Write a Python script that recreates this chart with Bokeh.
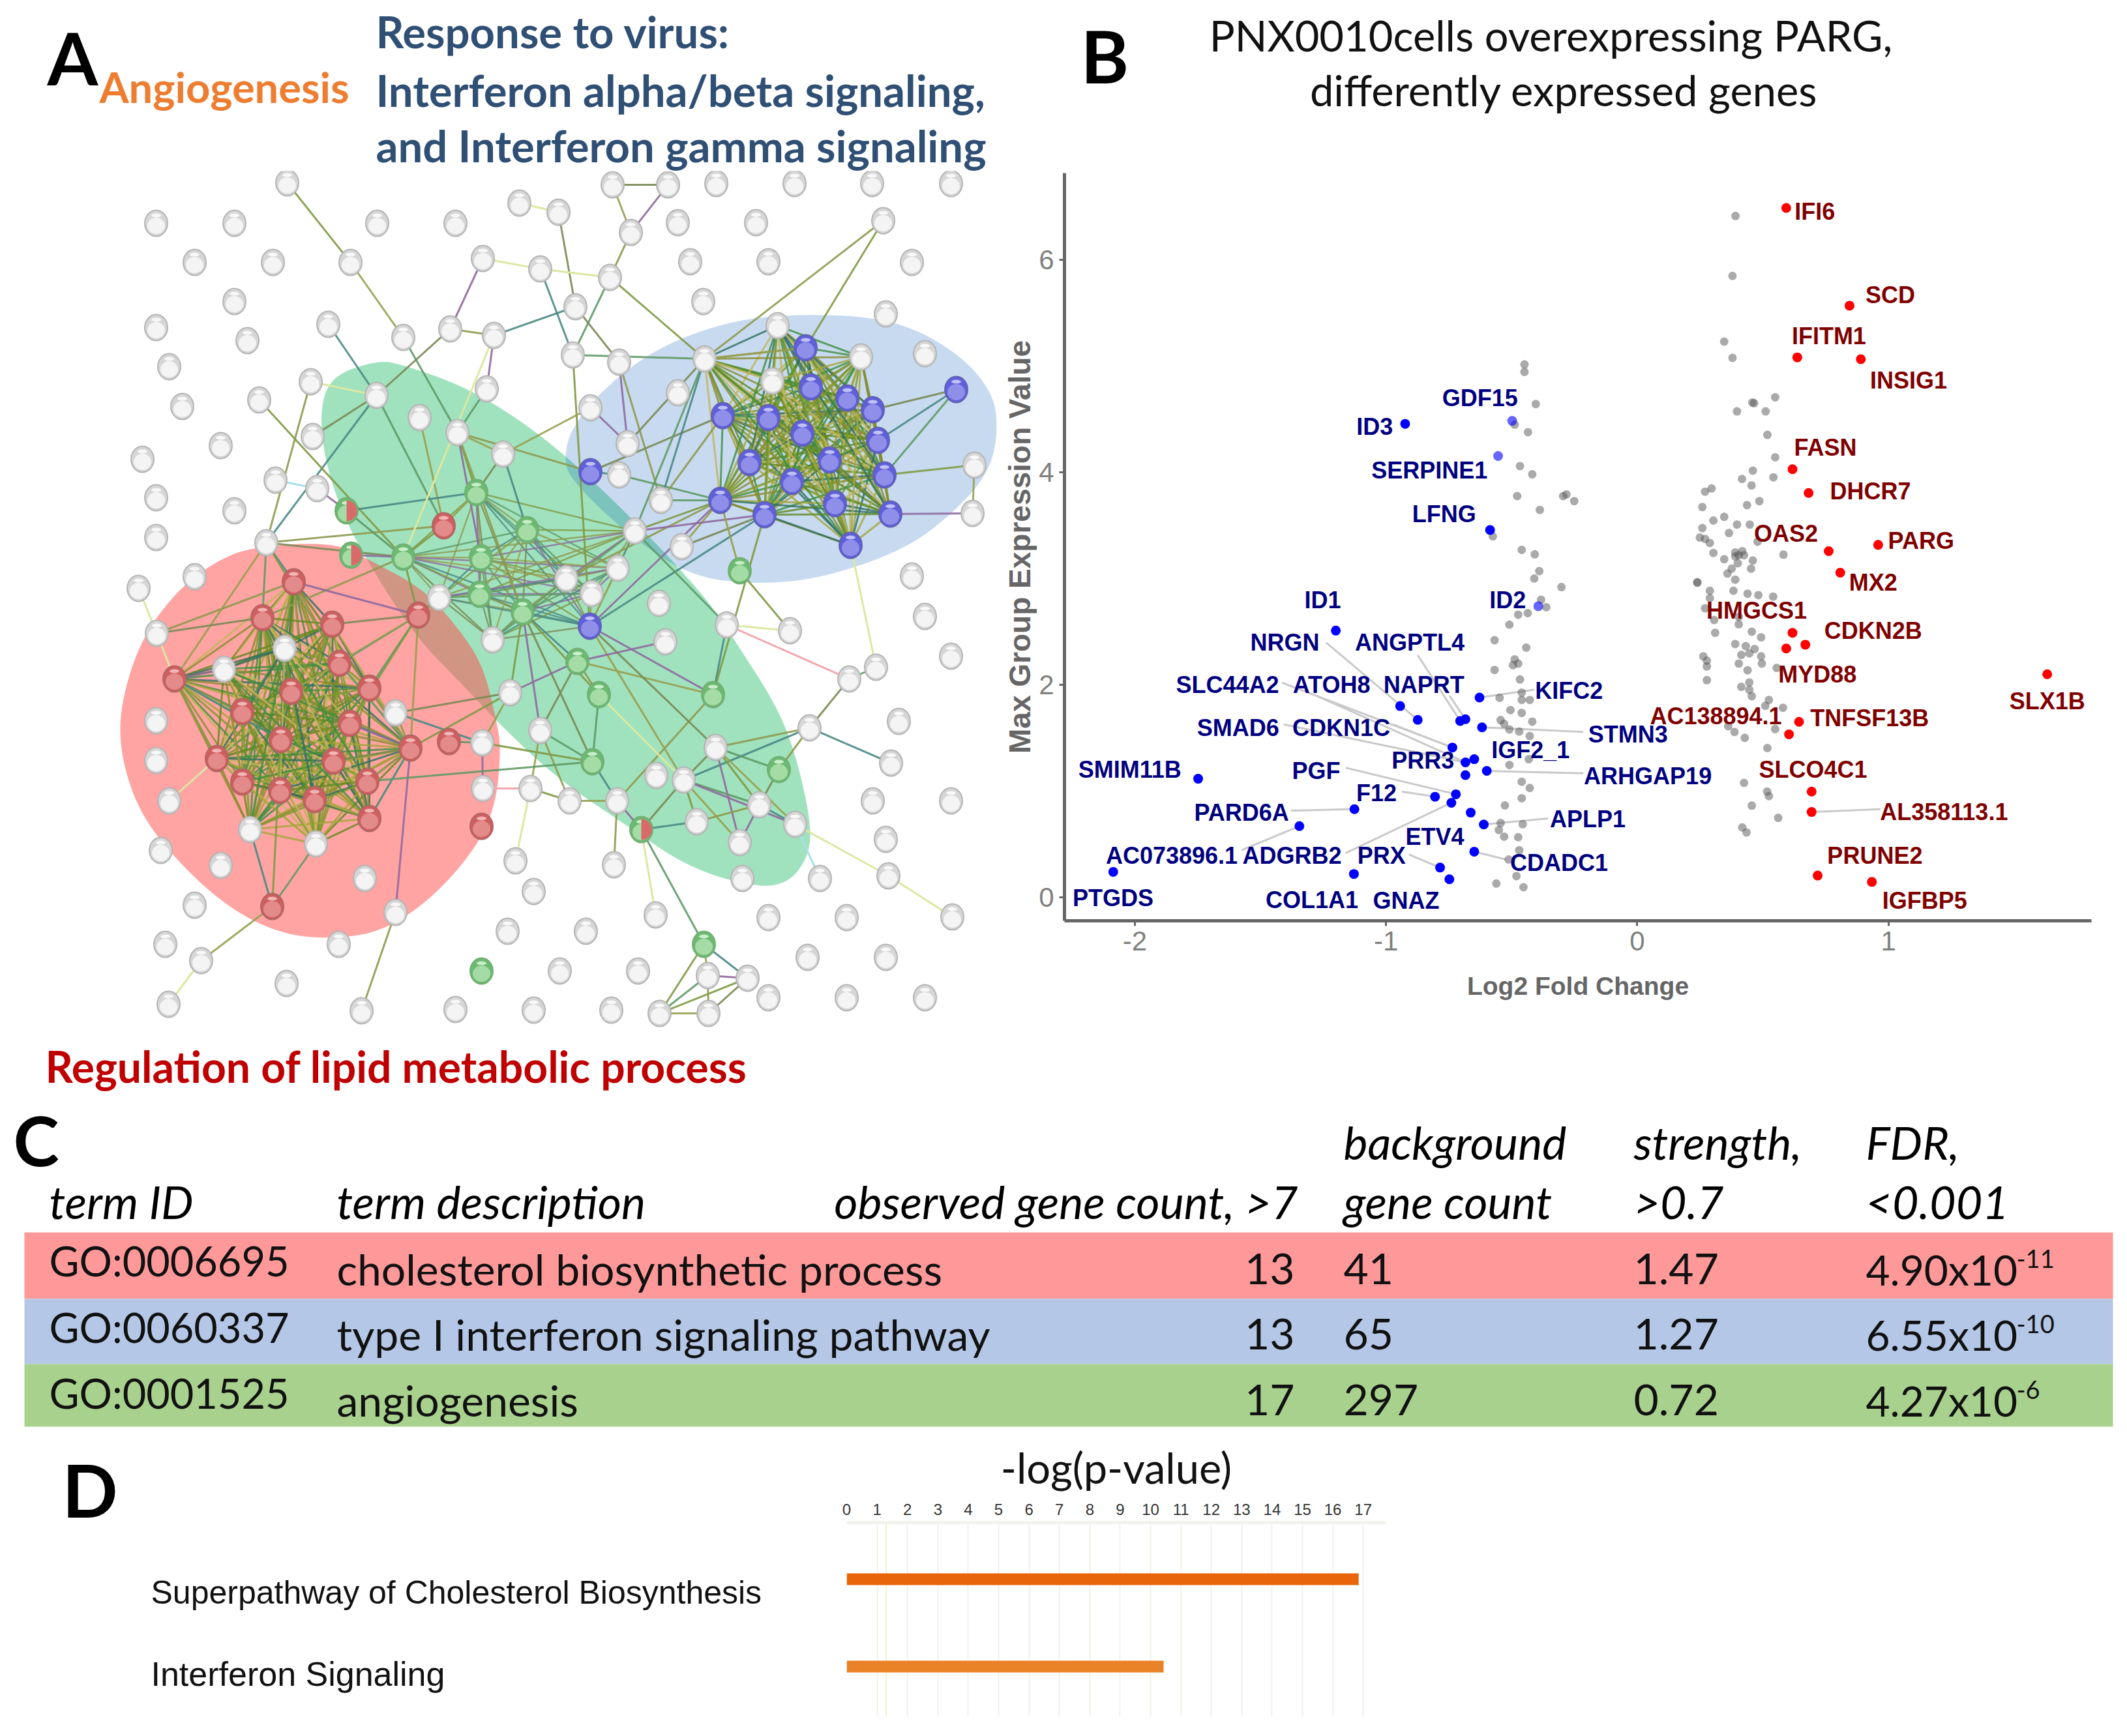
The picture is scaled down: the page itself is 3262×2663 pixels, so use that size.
from itertools import combinations
from bokeh.plotting import figure
from bokeh.layouts import column, row, Spacer
from bokeh.models import Range1d, FixedTicker
from bokeh.core.properties import value
from bokeh.embed import file_html
from bokeh.resources import INLINE

# ---------- panel A : network nodes (position on the layout) ----------
GRAY_NODES = [(440,280),(239,342),(359,342),(578,342),(698,342),(796,311),(298,402),(418,402),(537,402),(740,396),
 (359,462),(239,502),(379,522),(503,497),(618,517),(690,504),(757,514),(259,562),(476,585),(279,623),(397,613),
 (577,606),(746,596),(643,640),(479,669),(701,663),(338,683),(771,696),(218,704),(422,736),(486,749),(239,763),
 (359,783),(239,824),(408,832),(298,884),(212,902),
 (939,283),(1024,283),(1098,281),(1218,281),(1337,281),(1458,281),(856,325),(967,356),(1039,341),(1159,341),
 (1354,338),(828,412),(935,425),(1058,401),(1178,401),(1398,402),(882,470),(1078,462),(1358,481),(1192,499),
 (878,544),(949,555),(1080,550),(1320,547),(1418,542),(1184,584),(905,625),(1039,602),(962,680),(949,728),
 (1494,713),(1491,787),(1013,767),(973,814),(1045,838),(947,871),(868,887),(1398,883),
 (240,971),(343,1026),(436,994),(673,916),(755,981),(606,1093),(782,1062),(239,1105),(239,1166),(259,1228),
 (739,1139),(740,1209),(383,1272),(484,1294),(246,1304),(338,1327),(559,1347),(298,1388),(606,1399),(790,1320),
 (778,1428),(253,1448),(519,1448),(308,1473),(439,1508),(698,1548),(258,1540),(554,1550),
 (907,910),(1010,925),(1020,984),(1114,958),(1211,967),(1418,945),(1458,1006),(1343,1023),(1302,1041),(1378,1106),
 (1241,1116),(828,1120),(1097,1146),(1366,1170),(1006,1189),(1048,1196),(813,1209),(873,1228),(946,1228),(1338,1228),
 (1458,1228),(1164,1234),(1068,1260),(1219,1264),(1134,1292),(1358,1287),(941,1326),(818,1367),(1138,1347),(1257,1347),
 (1362,1343),(898,1428),(1005,1403),(1178,1407),(1298,1407),(1460,1406),(1238,1468),(1358,1468),(858,1489),(978,1489),
 (1085,1496),(1146,1500),(1178,1530),(1298,1530),(1418,1530),(818,1549),(937,1549),(1011,1554),(1086,1554)]
RED_NODES = [(680,806),(450,892),(402,947),(509,957),(641,943),(520,1017),(267,1041),(566,1055),(446,1060),(371,1091),
 (536,1109),(430,1134),(688,1137),(629,1147),(332,1163),(511,1167),(371,1199),(563,1198),(429,1212),(482,1226),
 (566,1255),(738,1267),(417,1390)]
BLUE_NODES = [(1235,533),(1243,593),(1299,610),(1338,628),(1466,597),(1108,637),(1178,640),(1230,664),(1346,675),
 (1149,709),(1272,705),(1356,728),(905,723),(1214,738),(1104,767),(1280,772),(1172,789),(1365,788),(1304,836),(904,960)]
GREEN_NODES = [(618,854),(730,755),(737,855),(808,812),(1134,875),(735,911),(801,938),(885,1014),(918,1065),(1093,1065),
 (908,1168),(1194,1180),(1079,1448),(738,1489)]
SPLIT_NODES = [(531,783),(538,851),(983,1272)]

RED_CLUSTER = [(450,892),(402,947),(509,957),(520,1017),(267,1041),(566,1055),(446,1060),(371,1091),(536,1109),
 (430,1134),(629,1147),(332,1163),(511,1167),(371,1199),(563,1198),(429,1212),(482,1226),(566,1255),(343,1026),
 (436,994),(383,1272),(484,1294)]
BLUE_CLUSTER = [(1235,533),(1243,593),(1299,610),(1338,628),(1108,637),(1178,640),(1230,664),(1346,675),(1149,709),
 (1272,705),(1356,728),(1214,738),(1104,767),(1280,772),(1172,789),(1365,788),(1304,836),(1080,550),(1192,499),(1320,547),(1184,584)]
GREEN_CLUSTER = [(730,755),(618,854),(737,855),(735,911),(808,812),(801,938),(868,887),(907,910),(673,916),(755,981),
 (904,960),(947,871),(973,814)]

EDGES = [((440,280),(537,402)),((537,402),(618,517)),((740,396),(690,504)),((690,504),(757,514)),((690,504),(577,606)),
 ((503,497),(577,606)),((618,517),(701,663)),((476,585),(408,832)),((577,606),(479,669)),((577,606),(408,832)),
 ((577,606),(680,806)),((397,613),(618,854)),((643,640),(680,806)),((757,514),(746,596)),((746,596),(701,663)),
 ((701,663),(730,755)),((701,663),(771,696)),((701,663),(737,855)),((701,663),(801,938)),((771,696),(730,755)),
 ((771,696),(808,812)),((486,749),(531,783)),((408,832),(680,806)),((408,832),(618,854)),((408,832),(450,892)),
 ((408,832),(402,947)),((408,832),(520,1017)),((408,832),(267,1041)),((531,783),(730,755)),((531,783),(618,854)),
 ((680,806),(618,854)),((680,806),(730,755)),((538,851),(618,854)),((618,854),(402,947)),
 ((939,283),(1024,283)),((939,283),(967,356)),((1024,283),(967,356)),((967,356),(935,425)),((856,325),(882,470)),
 ((828,412),(878,544)),((935,425),(878,544)),((935,425),(1080,550)),((882,470),(949,555)),((882,470),(757,514)),
 ((878,544),(1080,550)),((878,544),(904,960)),((905,625),(771,696)),((905,625),(962,680)),((1354,338),(1080,550)),
 ((1354,338),(1235,533)),((1080,550),(1235,533)),((949,555),(962,680)),((949,555),(1013,767)),((905,723),(1108,637)),
 ((905,723),(949,728)),((949,728),(1104,767)),((701,663),(905,723)),((1466,597),(1338,628)),((1466,597),(1346,675)),
 ((1466,597),(1356,728)),((1356,728),(1494,713)),((1494,713),(1491,787)),((1365,788),(1491,787)),
 ((1104,767),(1013,767)),((1104,767),(973,814)),((1104,767),(1045,838)),((1104,767),(904,960)),((1104,767),(868,887)),
 ((1172,789),(1045,838)),((1172,789),(904,960)),((1172,789),(973,814)),((1108,637),(1013,767)),((1080,550),(962,680)),
 ((1080,550),(1013,767)),((1080,550),(973,814)),((1134,875),(1211,967)),((1134,875),(1104,767)),((1114,958),(1093,1065)),
 ((1114,958),(973,814)),((1172,789),(1093,1065)),((1093,1065),(885,1014)),((1093,1065),(904,960)),((1093,1065),(946,1228)),
 ((904,960),(1097,1146)),((904,960),(1048,1196)),((1020,984),(885,1014)),((885,1014),(918,1065)),((885,1014),(828,1120)),
 ((885,1014),(801,938)),((918,1065),(908,1168)),((918,1065),(801,938)),((908,1168),(801,938)),((908,1168),(946,1228)),
 ((908,1168),(828,1120)),((908,1168),(739,1139)),((828,1120),(813,1209)),((828,1120),(801,938)),((828,1120),(873,1228)),
 ((813,1209),(873,1228)),((873,1228),(946,1228)),((946,1228),(983,1272)),((946,1228),(941,1326)),((983,1272),(1048,1196)),
 ((983,1272),(1068,1260)),((983,1272),(1079,1448)),((1097,1146),(1241,1116)),((1048,1196),(1097,1146)),((1048,1196),(1241,1116)),
 ((1048,1196),(1164,1234)),((1048,1196),(1068,1260)),((1048,1196),(1134,1292)),((1048,1196),(1219,1264)),((1097,1146),(1194,1180)),
 ((1097,1146),(1164,1234)),((1097,1146),(1219,1264)),((1097,1146),(1134,1292)),((1194,1180),(1241,1116)),((1194,1180),(1164,1234)),
 ((1164,1234),(1219,1264)),((1164,1234),(1134,1292)),((1164,1234),(1068,1260)),((1241,1116),(1302,1041)),((1241,1116),(1366,1170)),
 ((1302,1041),(1343,1023)),((1079,1448),(1011,1554)),((1079,1448),(1085,1496)),((1079,1448),(1146,1500)),((1011,1554),(1085,1496)),
 ((1011,1554),(1146,1500)),((1011,1554),(1086,1554)),((1085,1496),(1146,1500)),((1085,1496),(1086,1554)),((1146,1500),(1086,1554)),
 ((417,1390),(308,1473)),((606,1399),(629,1147)),((606,1399),(554,1550)),((240,971),(402,947)),((417,1390),(383,1272)),
 ((417,1390),(484,1294)),((417,1390),(430,1134)),((641,943),(509,957)),((641,943),(520,1017)),((641,943),(566,1055)),
 ((641,943),(536,1109)),((641,943),(446,1060)),((641,943),(450,892)),((641,943),(673,916)),((641,943),(618,854)),
 ((629,1147),(566,1055)),((629,1147),(536,1109)),((629,1147),(563,1198)),((629,1147),(511,1167)),((629,1147),(566,1255)),
 ((629,1147),(520,1017)),((629,1147),(606,1093)),((606,1093),(782,1062)),((606,1093),(739,1139)),((688,1137),(739,1139)),
 ((629,1147),(782,1062)),((641,943),(629,1147)),((740,1209),(739,1139)),((563,1198),(908,1168)),((782,1062),(801,938)),
 ((782,1062),(739,1139)),((782,1062),(885,1014)),((267,1041),(332,1163)),((267,1041),(371,1091)),((267,1041),(430,1134)),
 ((267,1041),(343,1026)),((240,971),(450,892))]
LIGHT_EDGES = [((577,606),(476,585)),((757,514),(618,854)),((828,412),(935,425)),((1304,836),(1343,1023)),
 ((1114,958),(1211,967)),((813,1209),(790,1320)),((918,1065),(1048,1196)),((983,1272),(1005,1403)),((1219,1264),(1362,1343)),
 ((1362,1343),(1460,1406)),((308,1473),(258,1540)),((240,971),(212,902)),((240,971),(267,1041)),((259,1228),(332,1163)),
 ((856,325),(796,311)),((740,396),(828,412))]
PINK_EDGES = [((1114,958),(1302,1041)),((740,1209),(813,1209))]
CYAN_EDGES = [((422,736),(486,749)),((1219,1264),(1257,1347))]

RED_HULL = [(383,838),(510,831),(561,856),(648,902),(700,960),(740,1019),(760,1101),(768,1147),(760,1234),(730,1300),(663,1377),
 (587,1428),(510,1440),(434,1433),(357,1397),(281,1331),(214,1249),(184,1157),(184,1081),(214,984),(265,912),(321,866)]
BLUE_HULL = [(1208,481),(1361,486),(1463,535),(1524,602),(1530,669),(1514,727),(1463,785),(1387,843),(1259,887),(1157,896),
 (1055,883),(953,812),(876,736),(864,704),(876,655),(928,593),(1004,535),(1106,495)]
GREEN_HULL = [(577,553),(510,575),(490,624),(497,704),(525,789),(566,866),(638,978),(714,1055),(766,1111),(853,1193),(965,1269),
 (1057,1331),(1159,1361),(1210,1354),(1241,1310),(1243,1259),(1220,1157),(1190,1081),(1134,994),(1098,938),(1047,877),
 (963,789),(869,700),(800,646),(714,593),(612,557)]

# ---------- panel B : volcano ----------
GRAY_X = [-0.449,-0.449,-0.404,-0.488,-0.435,-0.467,-0.418,-0.478,-0.295,-0.388,-0.575,-0.46,-0.408,-0.39,-0.41,-0.302,-0.383,-0.362,
 -0.436,-0.474,-0.509,-0.568,-0.442,-0.488,-0.474,-0.495,-0.568,-0.467,-0.548,-0.46,-0.46,-0.428,-0.505,-0.46,-0.544,-0.53,-0.418,
 -0.509,-0.47,-0.428,-0.432,-0.509,-0.46,-0.428,-0.46,-0.527,-0.544,-0.456,-0.551,-0.53,-0.474,-0.47,-0.512,-0.481,-0.561,-0.453,
 0.391,0.379,0.346,0.379,0.458,0.465,0.549,0.397,0.511,0.518,0.549,0.46,0.542,0.417,0.455,0.27,0.296,-0.251,-0.282,0.486,0.437,0.259,
 0.346,0.303,0.397,0.448,0.259,0.365,0.249,0.27,0.289,0.479,0.303,0.582,0.39,0.404,0.418,0.425,0.39,0.346,0.46,0.453,0.4,0.376,0.359,
 0.39,0.239,0.239,0.289,0.383,0.439,0.482,0.541,0.289,0.27,0.306,0.404,0.404,0.31,0.456,0.493,0.39,0.432,0.467,0.446,0.414,0.493,0.404,
 0.263,0.277,0.277,0.496,0.555,0.439,0.277,0.446,0.414,0.446,0.456,0.524,0.51,0.58,0.362,0.387,0.549,0.428,0.518,0.425,0.517,0.524,0.456,0.561,0.418,0.435]
GRAY_Y = [5.015,4.945,4.642,4.449,4.378,4.059,3.981,3.776,3.776,3.646,3.398,3.27,3.228,3.07,3.0,2.92,2.8,2.73,
 2.675,2.66,2.566,2.42,2.35,2.24,2.2,2.185,2.14,2.05,1.878,1.927,1.858,1.858,1.763,1.736,1.668,1.633,1.654,
 1.58,1.56,1.518,1.3,1.246,1.088,1.029,0.933,0.865,0.7,0.688,0.634,0.571,0.566,0.444,0.356,0.2,0.13,0.095,
 6.412,5.848,5.23,5.077,4.657,4.65,4.706,4.573,4.573,4.352,4.141,4.016,3.953,3.937,3.876,3.818,3.848,3.729,3.792,3.729,3.691,3.673,
 3.581,3.546,3.508,3.508,3.475,3.429,3.386,3.373,3.335,3.347,3.241,3.225,3.246,3.22,3.258,3.22,3.208,3.182,3.17,3.093,3.144,3.093,3.047,
 2.99,2.966,2.96,2.885,2.885,2.858,2.844,2.83,2.816,2.72,2.61,2.57,2.64,2.49,2.5,2.447,2.384,2.364,2.337,2.296,2.282,2.268,2.2,
 2.268,2.227,2.173,2.2,2.159,2.137,2.044,2.022,1.981,1.953,1.893,1.858,1.803,1.784,1.611,1.556,1.584,1.501,1.405,1.077,0.995,0.953,0.863,0.748,0.658,0.611]
DOWN_X = [-2.086,-1.748,-1.345,-1.126,-1.2,-1.128,-0.944,-0.874,-0.805,-0.785,-0.748,-0.736,-0.74,-0.722,-0.705,-0.684,-0.684,-0.684,
 -0.649,-0.663,-0.649,-0.628,-0.618,-0.611,-0.599,-0.394,-0.924,-0.498,-0.554,-0.586]
DOWN_Y = [0.24,1.116,0.67,0.83,2.51,0.22,1.8,1.67,0.947,0.28,0.17,1.41,0.89,0.97,1.66,1.676,1.27,1.15,
 1.3,0.797,0.43,1.88,1.6,0.686,1.19,2.74,4.456,4.484,4.153,3.457]
DOWN_FADED = [False]*25 + [True, False, True, True, False]
UP_X = [0.593,0.845,0.637,0.89,0.618,0.682,0.762,0.959,0.808,0.618,0.669,0.593,1.632,0.644,0.604,0.694,0.694,0.718,0.934]
UP_Y = [6.488,5.568,5.082,5.064,4.029,3.805,3.258,3.317,3.055,2.49,2.378,2.342,2.1,1.652,1.534,0.995,0.803,0.205,0.145]

DOWN_LABELS = ["ID1","NRGN","ANGPTL4","SLC44A2","ATOH8","NAPRT","SMAD6","CDKN1C","PRR3","SMIM11B","PGF","F12","PARD6A","AC073896.1",
 "ADGRB2","PRX","ETV4","PTGDS","COL1A1","GNAZ","ID2","GDF15","ID3","SERPINE1","LFNG","KIFC2","STMN3","IGF2_1","ARHGAP19","APLP1","CDADC1"]
DOWN_LABEL_X = [-1.252,-1.403,-0.906,-1.631,-1.217,-0.849,-1.589,-1.178,-0.853,-2.02,-1.278,-1.038,-1.575,-1.853,
 -1.374,-1.018,-0.806,-2.087,-1.295,-0.92,-0.516,-0.626,-1.045,-0.827,-0.769,-0.272,-0.037,-0.425,0.042,-0.197,-0.311]
DOWN_LABEL_Y = [2.8,2.397,2.397,2.0,2.0,2.0,1.595,1.595,1.287,1.205,1.19,0.98,0.797,0.395,
 0.39,0.39,0.571,-0.005,-0.024,-0.033,2.8,4.7,4.43,4.02,3.61,1.945,1.534,1.386,1.14,0.736,0.325]
UP_LABELS = ["IFI6","SCD","IFITM1","INSIG1","FASN","DHCR7","OAS2","PARG","MX2","HMGCS1","CDKN2B","MYD88","SLX1B","AC138894.1",
 "TNFSF13B","SLCO4C1","AL358113.1","PRUNE2","IGFBP5"]
UP_LABEL_X = [0.707,1.007,0.763,1.08,0.749,0.928,0.592,1.13,0.939,0.475,0.939,0.717,1.632,0.313,0.925,0.7,1.221,0.946,1.144]
UP_LABEL_Y = [6.455,5.67,5.28,4.868,4.233,3.823,3.424,3.355,2.962,2.7,2.51,2.096,1.849,1.707,1.685,1.2,0.803,0.392,-0.033]
LINK_X0 = [-1.238,-0.874,-0.748,-1.414,-1.28,-1.407,-0.972,-1.161,-0.937,-1.379,-1.575,-1.161,-0.909,-0.628,-0.618,-0.599,-0.611,-0.649,0.694]
LINK_Y0 = [2.397,2.28,1.9,2.02,1.9,1.627,1.627,1.219,0.996,0.816,0.444,0.416,0.403,1.88,1.6,1.19,0.686,0.43,0.803]
LINK_X1 = [-0.874,-0.705,-0.684,-0.736,-0.684,-0.684,-0.736,-0.722,-0.805,-1.126,-1.345,-0.74,-0.785,-0.411,-0.215,-0.215,-0.355,-0.523,0.968]
LINK_Y1 = [1.67,1.66,1.676,1.41,1.27,1.27,1.41,0.97,0.947,0.83,0.67,0.89,0.28,1.954,1.556,1.167,0.743,0.356,0.83]
X_TICKS = [-2,-1,0,1]
Y_TICKS = [0,2,4,6]

# ---------- panel C : table ----------
TERM_ID = ["GO:0006695","GO:0060337","GO:0001525"]
TERM_DESC = ["cholesterol biosynthetic process","type I interferon signaling pathway","angiogenesis"]
OBSERVED = ["13","13","17"]
BACKGROUND = ["41","65","297"]
STRENGTH = ["1.47","1.27","0.72"]
FDR_BASE = ["4.90x10","6.55x10","4.27x10"]
FDR_EXP = ["-11","-10","-6"]
ROW_COLORS = ["#FF9999","#B4C7E7","#A9D18E"]
ROW_TOP = [1890,1992,2092]
ROW_BOTTOM = [1992,2092,2188]
ROW_ID_BASE = [1957,2059,2160]
ROW_BASE = [1971,2071,2172]
FDR_END = [3092,3092,3092]

# ---------- panel D : bars ----------
PATHWAYS = ["Superpathway of Cholesterol Biosynthesis","Interferon Signaling"]
NEG_LOG_P = [16.85,10.43]
BAR_COLORS = ["#E8650A","#E98226"]
THRESHOLD = 1.3
P_TICKS = list(range(18))

CAL = "Lato"
ARIAL = "Liberation Sans"
PR = 3256
STRIP_B, A_B, C_B, D_B = 262, 1678, 2200, 2660
A_R = 1535

def page_fig(x0,x1,y0,y1):
    p = figure(width=x1-x0,height=y1-y0,x_range=Range1d(x0,x1),y_range=Range1d(y1,y0),
               output_backend="svg",toolbar_location=None)
    p.axis.visible = False
    p.grid.visible = False
    p.outline_line_color = None
    p.min_border = 0
    p.min_border_left = p.min_border_right = p.min_border_top = p.min_border_bottom = 0
    return p

def txt(p, x, y, s, size, color="black", bold=False, italic=False, font=CAL, align="left", baseline="alphabetic"):
    style = "bold italic" if bold and italic else "bold" if bold else "italic" if italic else "normal"
    if baseline == "alphabetic":
        y = y - 0.38*size
    p.text([x],[y],text=[s],text_font=value(font),text_font_size=f"{size}px",text_color=color,
           text_font_style=style,text_align=align,text_baseline=baseline)

def smooth(pts, n=3):
    pts = list(pts)
    for _ in range(n):
        out = []
        for i,(a,b) in enumerate(pts):
            c,d = pts[(i+1)%len(pts)]
            out += [(0.75*a+0.25*c,0.75*b+0.25*d),(0.25*a+0.75*c,0.25*b+0.75*d)]
        pts = out
    return [q[0] for q in pts],[q[1] for q in pts]

# ---------- top strip with the panel letters and headings ----------
s = page_fig(0,PR,0,STRIP_B)
txt(s,72,130,"A",112,bold=True)
txt(s,152,157,"Angiogenesis",65,"#ED7D31",True)
txt(s,576,73,"Response to virus:",67,"#2F4F75",True)
txt(s,576,163,"Interferon alpha/beta signaling,",67,"#2F4F75",True)
txt(s,576,248,"and Interferon gamma signaling",67,"#2F4F75",True)
txt(s,1657,127,"B",112,bold=True)
txt(s,2378,78,"PNX0010cells overexpressing PARG,",65,"#111111",align="center")
txt(s,2398,162,"differently expressed genes",65,"#111111",align="center")

# ---------- figure A ----------
a = page_fig(0,A_R,STRIP_B,A_B)
gx,gy = smooth(GREEN_HULL); a.patch(gx,gy,fill_color=(65,197,125),fill_alpha=0.5,line_color=None)
rx,ry = smooth(RED_HULL); a.patch(rx,ry,fill_color=(255,71,71),fill_alpha=0.5,line_color=None)
bx,by = smooth(BLUE_HULL); a.patch(bx,by,fill_color=(0,86,186),fill_alpha=0.22,line_color=None)

ALL_NODES = GRAY_NODES+RED_NODES+BLUE_NODES+GREEN_NODES+SPLIT_NODES
def snap(q):
    return min(ALL_NODES,key=lambda n:(n[0]-q[0])**2+(n[1]-q[1])**2)
def draw_edges(pairs, colors, width, alpha):
    xs,ys,cs = [],[],[]
    for i,(u,v) in enumerate(pairs):
        u2,v2 = snap(u),snap(v)
        xs.append([u2[0],v2[0]]); ys.append([u2[1],v2[1]]); cs.append(colors[(i*5+i//7)%len(colors)])
    a.multi_line(xs,ys,line_color=cs,line_width=width,line_alpha=alpha)
DENSE = ["#5f8a1f","#8b8b2f","#3f8f3f","#a5a53a","#6d5a8a","#2f6f5f","#c2b55a","#7b9a2a","#4d7d2d"]
SPARSE = ["#7f9a45","#8f9a50","#5f9a66","#8f6a9f","#4a8a85","#98a050","#7a8a55"]
draw_edges(list(combinations(RED_CLUSTER,2)),DENSE,3,0.8)
draw_edges(list(combinations(BLUE_CLUSTER,2)),DENSE,3,0.8)
draw_edges(list(combinations(GREEN_CLUSTER,2)),SPARSE,2.5,0.8)
draw_edges(EDGES,SPARSE,3,0.9)
draw_edges(LIGHT_EDGES,["#dbe8a0"],3,1)
draw_edges(PINK_EDGES,["#f2a6ac"],3,1)
draw_edges(CYAN_EDGES,["#a8e0e8"],3,1)

NODE_STYLE = {"gray":("#b4b4b4","#d6d6d6","#f4f4f4","#f8f8f8"),"red":("#ad6666","#cf5f5f","#e38a8a","#f0b5b5"),
              "blue":("#6262ae","#5f5fdb","#8f8fea","#c0c0f5"),"green":("#74ad74","#6cb972","#a5dca5","#c8eec8")}
def draw_nodes(nodes, style):
    xs=[n[0] for n in nodes]; ys=[n[1] for n in nodes]
    r,b,l,h = NODE_STYLE[style]
    a.ellipse(xs,ys,width=37,height=42,fill_color=r,line_color=None)
    a.ellipse(xs,ys,width=33,height=38,fill_color=b,line_color=None)
    a.ellipse(xs,[y+4 for y in ys],width=27,height=25,fill_color=l,line_color=None)
    a.ellipse(xs,[y-12 for y in ys],width=15,height=6,fill_color=h,line_color=None)
draw_nodes(GRAY_NODES,"gray"); draw_nodes(RED_NODES,"red"); draw_nodes(BLUE_NODES,"blue")
draw_nodes(GREEN_NODES,"green"); draw_nodes(SPLIT_NODES,"green")
a.wedge([n[0] for n in SPLIT_NODES],[n[1] for n in SPLIT_NODES],radius=16,start_angle=-1.5708,end_angle=1.5708,
        fill_color="#d96a6a",line_color=None)
txt(a,69,1660,"Regulation of lipid metabolic process",66,"#C00000",True)

# ---------- figure B ----------
FX0,FX1,FY0,FY1 = 1631,3207,1412,265
def VX(px): return (px-2510)/385.5
def VY(py): return (1376-py)/163
B_T = STRIP_B+2; B_B = A_B-8; B_R = PR-1
b = figure(width=B_R-A_R,height=B_B-B_T,x_range=Range1d(VX(FX0),VX(FX1)),y_range=Range1d(VY(FY0),VY(FY1)),
           output_backend="svg",toolbar_location=None)
b.grid.visible=False; b.outline_line_color=None
b.min_border_left=FX0-A_R; b.min_border_right=B_R-FX1; b.min_border_top=FY1-B_T; b.min_border_bottom=B_B-FY0
b.xaxis.ticker=FixedTicker(ticks=X_TICKS); b.yaxis.ticker=FixedTicker(ticks=Y_TICKS)
b.xaxis.major_label_overrides={-2:"-2",-1:"-1",0:"0",1:"1"}
for ax in (b.xaxis[0],b.yaxis[0]):
    ax.axis_line_color="#666666"; ax.axis_line_width=5
    ax.major_tick_line_color="#666666"; ax.major_tick_line_width=3; ax.major_tick_out=8; ax.major_tick_in=0
    ax.minor_tick_line_color=None
    ax.major_label_text_font=ARIAL; ax.major_label_text_font_size="42px"; ax.major_label_text_color="#808080"
    ax.major_label_standoff=8
b.xaxis.axis_label="Log2 Fold Change"; b.xaxis.axis_label_text_font=ARIAL; b.xaxis.axis_label_text_font_size="39px"
b.xaxis.axis_label_text_font_style="bold"; b.xaxis.axis_label_text_color="#666666"; b.xaxis.axis_label_standoff=30
b.yaxis.axis_label="Max Group Expression Value"; b.yaxis.axis_label_text_font=ARIAL; b.yaxis.axis_label_text_font_size="46px"
b.yaxis.axis_label_text_font_style="bold"; b.yaxis.axis_label_text_color="#666666"; b.yaxis.axis_label_standoff=0
b.yaxis.major_label_orientation="horizontal"
b.segment(LINK_X0,LINK_Y0,LINK_X1,LINK_Y1,line_color="#c9c9c9",line_width=3)
b.scatter(GRAY_X,GRAY_Y,size=13,fill_color="#555555",fill_alpha=0.5,line_color=None)
b.scatter(DOWN_X,DOWN_Y,size=15,fill_color="#0000FF",fill_alpha=[0.6 if f else 1 for f in DOWN_FADED],line_color=None)
b.scatter(UP_X,UP_Y,size=15,fill_color="#FF0000",line_color=None)
b.text(DOWN_LABEL_X,DOWN_LABEL_Y,text=DOWN_LABELS,text_font=value(ARIAL),text_font_size="36px",text_font_style="bold",
       text_color="#000080",text_align="center",text_baseline="middle")
b.text(UP_LABEL_X,UP_LABEL_Y,text=UP_LABELS,text_font=value(ARIAL),text_font_size="36px",text_font_style="bold",
       text_color="#800000",text_align="center",text_baseline="middle")

# ---------- figure C ----------
c = page_fig(0,PR,A_B,C_B)
c.quad(left=[37]*3,right=[3240]*3,top=ROW_TOP,bottom=ROW_BOTTOM,fill_color=ROW_COLORS,line_color=None)
txt(c,20,1788,"C",106,bold=True)
HS = 70
txt(c,75,1869,"term ID",HS,italic=True)
txt(c,516,1869,"term description",HS,italic=True)
txt(c,1990,1869,"observed gene count, >7",HS,italic=True,align="right")
txt(c,2060,1778,"background",HS,italic=True)
txt(c,2060,1869,"gene count",HS,italic=True)
txt(c,2505,1778,"strength,",HS,italic=True)
txt(c,2505,1869,">0.7",HS,italic=True)
txt(c,2861,1778,"FDR,",HS,italic=True)
txt(c,2861,1869,"<0.001",HS,italic=True)
BS = 66
for i in range(3):
    txt(c,75,ROW_ID_BASE[i],TERM_ID[i],63,color="#111111")
    txt(c,516,ROW_BASE[i],TERM_DESC[i],BS,color="#111111")
    txt(c,1985,ROW_BASE[i],OBSERVED[i],BS,color="#111111",align="right")
    txt(c,2060,ROW_BASE[i],BACKGROUND[i],BS,color="#111111")
    txt(c,2505,ROW_BASE[i],STRENGTH[i],BS,color="#111111")
    txt(c,2861,ROW_BASE[i],FDR_BASE[i],BS-2,color="#111111")
    txt(c,FDR_END[i],ROW_BASE[i]-26,FDR_EXP[i],38,color="#111111")

# ---------- figure D ----------
def DX(px): return (px-1298)/46.6
def DY(py): return (py-2422)/134
DF_L,DF_R,DF_T,DF_B = 1298,2125,2335,2633
D_L = 1270; D_T = C_B+2; D_R = PR-2; D_BB = D_B-6
dl = page_fig(0,D_L,C_B,D_B)
txt(dl,95,2327,"D",112,bold=True)
txt(dl,231,2442,PATHWAYS[0],50,"#111111",font=ARIAL,baseline="middle")
txt(dl,231,2567,PATHWAYS[1],52,"#111111",font=ARIAL,baseline="middle")
d = figure(width=D_R-D_L,height=D_BB-D_T,x_range=Range1d(DX(DF_L),DX(DF_R)),y_range=Range1d(DY(DF_B),DY(DF_T)),
           x_axis_location="above",output_backend="svg",toolbar_location=None)
d.outline_line_color=None; d.yaxis.visible=False; d.ygrid.visible=False
d.min_border_left=DF_L-D_L; d.min_border_right=D_R-DF_R; d.min_border_top=DF_T-D_T; d.min_border_bottom=D_BB-DF_B
d.xaxis.ticker=FixedTicker(ticks=P_TICKS); d.xgrid.ticker=FixedTicker(ticks=P_TICKS)
d.xgrid.grid_line_color="#f1f1ea"; d.xgrid.grid_line_width=2
d.xaxis.axis_line_color="#f2f2ee"; d.xaxis.axis_line_width=5
d.xaxis.major_tick_line_color=None; d.xaxis.minor_tick_line_color=None
d.xaxis.major_label_text_font=ARIAL; d.xaxis.major_label_text_font_size="24px"; d.xaxis.major_label_text_color="#333333"
d.xaxis.major_label_standoff=6
d.xaxis.axis_label="-log(p-value)"; d.xaxis.axis_label_text_font=CAL; d.xaxis.axis_label_text_font_size="65px"
d.xaxis.axis_label_text_font_style="normal"; d.xaxis.axis_label_text_color="#111111"; d.xaxis.axis_label_standoff=14
d.segment([THRESHOLD],[DY(DF_T)],[THRESHOLD],[DY(DF_B)],line_color="#f5f0d0",line_width=2)
d.hbar(y=[0,1],left=0,right=NEG_LOG_P,height=0.135,fill_color=BAR_COLORS,line_color=None)

page = column(s,row(a,column(Spacer(width=1,height=2),b)),c,row(dl,column(Spacer(width=1,height=2),d)))
open("out.html","w").write(file_html(page,INLINE))
